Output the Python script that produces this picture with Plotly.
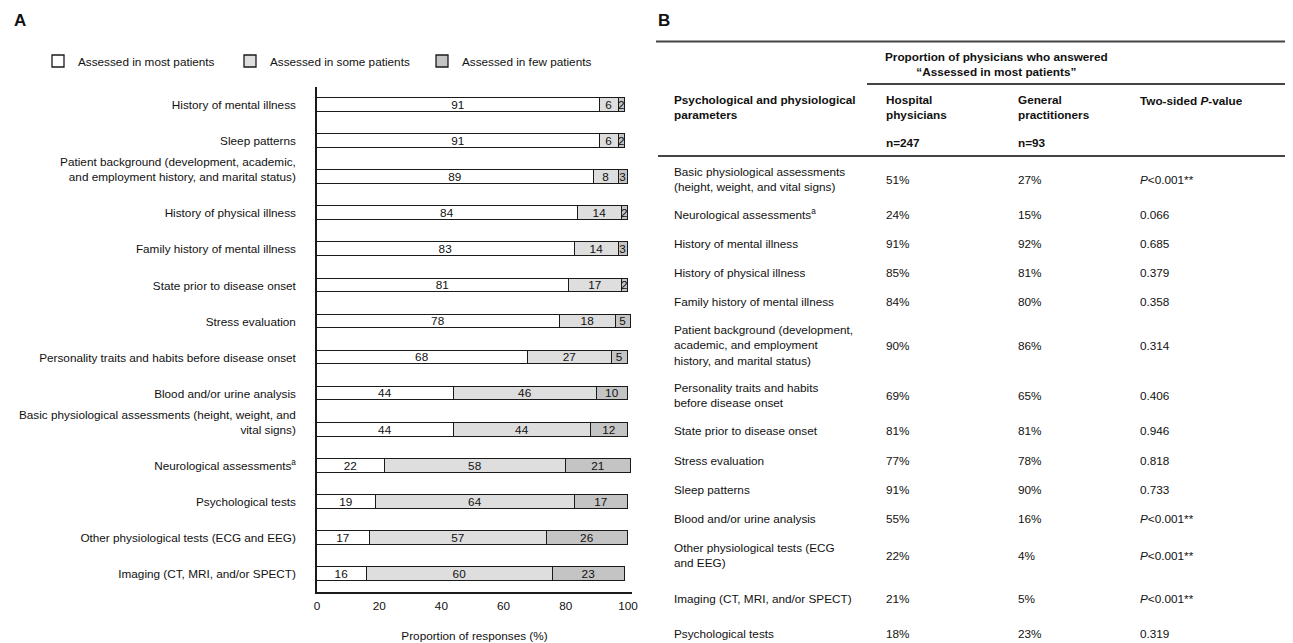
import plotly.graph_objects as go

# ---------------- Data (panel A) ----------------
categories = [
    "History of mental illness",
    "Sleep patterns",
    "Patient background (development, academic,<br>and employment history, and marital status)<br>\u00a0",
    "History of physical illness",
    "Family history of mental illness",
    "State prior to disease onset",
    "Stress evaluation",
    "Personality traits and habits before disease onset",
    "Blood and/or urine analysis",
    "Basic physiological assessments (height, weight, and<br>vital signs)<br>\u00a0",
    "Neurological assessments<sup>a</sup>",
    "Psychological tests",
    "Other physiological tests (ECG and EEG)",
    "Imaging (CT, MRI, and/or SPECT)",
]
most_pct = [91, 91, 89, 84, 83, 81, 78, 68, 44, 44, 22, 19, 17, 16]
some_pct = [6, 6, 8, 14, 14, 17, 18, 27, 46, 44, 58, 64, 57, 60]
few_pct = [2, 2, 3, 2, 3, 2, 5, 5, 10, 12, 21, 17, 26, 23]
series_names = ["Assessed in most patients", "Assessed in some patients", "Assessed in few patients"]
x_ticks = [0, 20, 40, 60, 80, 100]

# ---------------- Data (panel B) ----------------
table_params = [
    "Basic physiological assessments<br>(height, weight, and vital signs)",
    "Neurological assessments<sup>a</sup>",
    "History of mental illness",
    "History of physical illness",
    "Family history of mental illness",
    "Patient background (development,<br>academic, and employment<br>history, and marital status)",
    "Personality traits and habits<br>before disease onset",
    "State prior to disease onset",
    "Stress evaluation",
    "Sleep patterns",
    "Blood and/or urine analysis",
    "Other physiological tests (ECG<br>and EEG)",
    "Imaging (CT, MRI, and/or SPECT)",
    "Psychological tests",
]
hospital_pct = [51, 24, 91, 85, 84, 90, 69, 81, 77, 91, 55, 22, 21, 18]
gp_pct = [27, 15, 92, 81, 80, 86, 65, 81, 78, 90, 16, 4, 5, 23]
p_values = ["<i>P</i>&lt;0.001**", "0.066", "0.685", "0.379", "0.358", "0.314", "0.406",
            "0.946", "0.818", "0.733", "<i>P</i>&lt;0.001**", "<i>P</i>&lt;0.001**",
            "<i>P</i>&lt;0.001**", "0.319"]
n_hospital = 247
n_gp = 93

# ---------------- Layout helpers ----------------
# the page body has an 8px margin, so the figure is shrunk by that and all
# screen positions are shifted by it
OFF = 8
W, H = 1293 - OFF, 643 - OFF
FONT = "Liberation Sans, Arial, Helvetica, sans-serif"
FS = 11.75
INK = "#111111"


def px(x):
    return (x - OFF) / W


def py(y):
    return 1 - (y - OFF) / H


fills = ["#ffffff", "#dedede", "#c4c4c4"]
fig = go.Figure()
for name, vals, col in zip(series_names, [most_pct, some_pct, few_pct], fills):
    fig.add_trace(go.Bar(
        y=categories, x=vals, name=name, orientation="h",
        marker=dict(color=col, line=dict(color="#1a1a1a", width=1.3)),
        width=0.38,
        text=vals, textposition="inside", insidetextanchor="middle", textangle=0,
        textfont=dict(family=FONT, size=FS, color="#111111"),
        hoverinfo="skip",
    ))

fig.update_layout(
    width=W, height=H, autosize=False,
    margin=dict(l=0, r=0, t=0, b=0),
    paper_bgcolor="white", plot_bgcolor="white",
    barmode="stack", bargap=0,
    font=dict(family=FONT, size=FS, color=INK),
    uniformtext=dict(minsize=FS, mode="show"),
    showlegend=True,
    legend=dict(orientation="h", x=px(38), y=py(61), xanchor="left", yanchor="middle",
                font=dict(family=FONT, size=FS, color=INK), entrywidth=147,
                traceorder="normal", bgcolor="rgba(0,0,0,0)", itemclick=False),
    xaxis=dict(domain=[px(317), px(632)], range=[0, 101.3], tickvals=x_ticks,
               showline=True, linecolor="#1a1a1a", linewidth=1.5, showgrid=False,
               zeroline=False, ticks="", ticklabelstandoff=2,
               tickfont=dict(family=FONT, size=FS, color=INK),
               title=dict(text="Proportion of responses (%)", standoff=21,
                          font=dict(family=FONT, size=FS, color=INK)),
               automargin=False, fixedrange=True),
    yaxis=dict(domain=[py(592), py(87)], type="category",
               categoryorder="array", categoryarray=categories,
               range=[13.5, -0.5],
               showline=True, linecolor="#1a1a1a", linewidth=1.5, showgrid=False,
               zeroline=False, ticks="", ticklabelstandoff=17,
               tickfont=dict(family=FONT, size=FS, color=INK),
               automargin=False, fixedrange=True),
)

ann = []
# panel letters
ann.append(dict(text="<b>A</b>", x=px(12), y=py(21), xref="paper", yref="paper",
                xanchor="left", yanchor="middle", showarrow=False,
                font=dict(family=FONT, size=17, color=INK)))
ann.append(dict(text="<b>B</b>", x=px(656), y=py(21), xref="paper", yref="paper",
                xanchor="left", yanchor="middle", showarrow=False,
                font=dict(family=FONT, size=17, color=INK)))

# table header
col_x = [672, 884, 1016, 1138]


def add_text(text, x, y, bold=False, anchor="left"):
    ann.append(dict(text=("<b>%s</b>" % text) if bold else text, x=px(x), y=py(y),
                    xref="paper", yref="paper", xanchor=anchor, yanchor="middle",
                    align="center" if anchor == "center" else "left", showarrow=False,
                    font=dict(family=FONT, size=FS, color=INK)))


add_text("Proportion of physicians who answered<br>\u201cAssessed in most patients\u201d", 996, 64,
         bold=True, anchor="center")
add_text("Psychological and physiological<br>parameters", col_x[0], 106.5, bold=True)
add_text("Hospital<br>physicians", col_x[1], 106.5, bold=True)
add_text("General<br>practitioners", col_x[2], 106.5, bold=True)
add_text("Two-sided <i>P</i>-value", col_x[3], 100, bold=True)
add_text("n=%d" % n_hospital, col_x[1], 142, bold=True)
add_text("n=%d" % n_gp, col_x[2], 142, bold=True)

row_y = [179, 214, 243, 272, 301, 345, 395, 431, 460, 489, 518, 555, 598, 633]
for lab, h, g, p, y in zip(table_params, hospital_pct, gp_pct, p_values, row_y):
    add_text(lab, col_x[0], y)
    add_text("%d%%" % h, col_x[1], y)
    add_text("%d%%" % g, col_x[2], y)
    add_text(p, col_x[3], y)

fig.update_layout(annotations=ann)

# table rules
rule = dict(color="#444444", width=1.8)
shapes = [
    dict(type="line", xref="paper", yref="paper", x0=px(656), x1=1, y0=py(41.5), y1=py(41.5), line=rule),
    dict(type="line", xref="paper", yref="paper", x0=px(867), x1=1, y0=py(84), y1=py(84), line=rule),
    dict(type="line", xref="paper", yref="paper", x0=px(658), x1=1, y0=py(156), y1=py(156), line=rule),
]
fig.update_layout(shapes=shapes)

fig.write_html("out.html", config={"displayModeBar": False})
